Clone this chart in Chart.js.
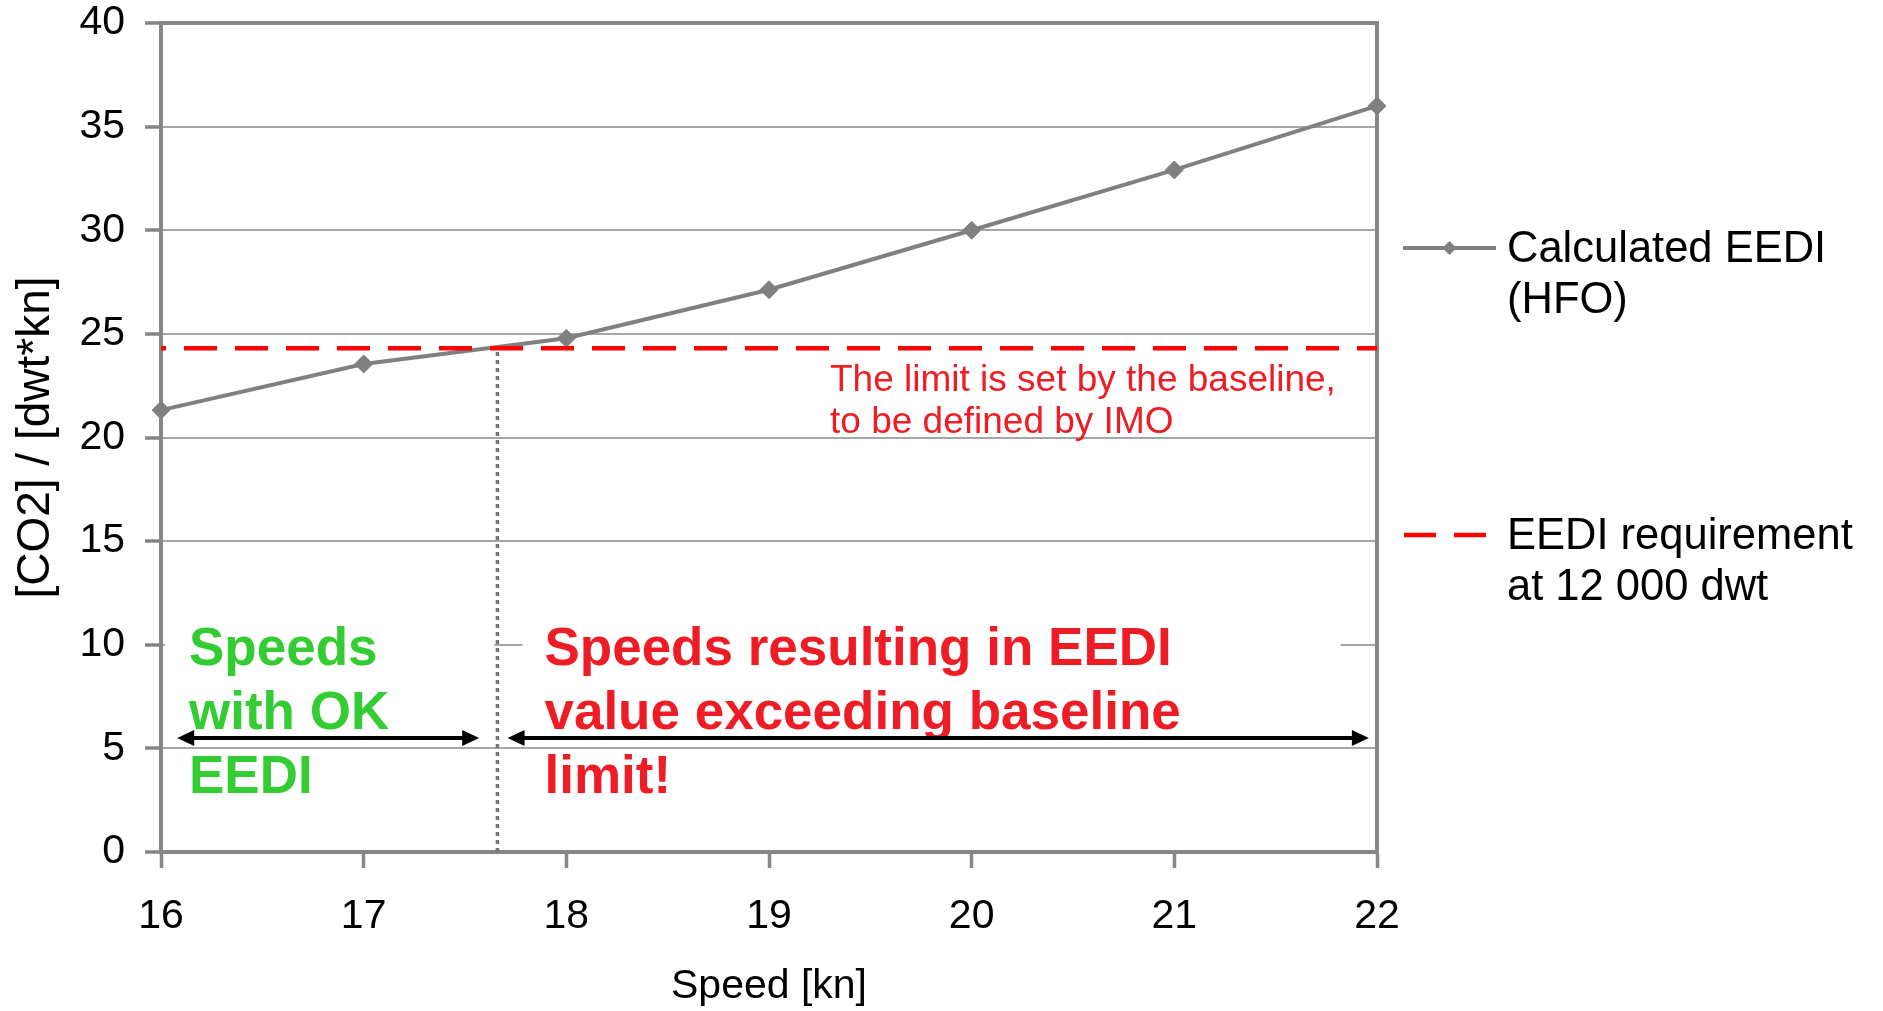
<!DOCTYPE html>
<html lang="en">
<head>
  <meta charset="UTF-8" />
  <title>EEDI vs speed</title>
  <style>
    html, body { margin: 0; padding: 0; background: #fff; }
    canvas { display: block; }
  </style>
</head>
<body>
  <canvas id="eediChart" width="1883" height="1011"></canvas>

  <script src="https://cdn.jsdelivr.net/npm/chart.js"></script>
  <script>
    // Speed (kn) against calculated EEDI
    const speeds = [16, 17, 18, 19, 20, 21, 22];
    const eediValues = [21.32, 23.55, 24.79, 27.13, 30.0, 32.91, 36.0];

    // Requirement level and the speed where the curve crosses it
    const requirementLevel = 24.31;
    const crossingSpeed = 17.66;

    // Speed ranges marked with arrows, and the height they sit at
    const okSpan = [16.08, 17.57];
    const exceedSpan = [17.71, 21.96];
    const arrowLevel = 5.5;

    const legendLines = [
      ["Calculated EEDI", "(HFO)"],
      ["EEDI requirement", "at 12 000 dwt"]
    ];
    const okText = ["Speeds", "with OK", "EEDI"];
    const exceedText = ["Speeds resulting in EEDI", "value exceeding baseline", "limit!"];
    const noteText = ["The limit is set by the baseline,", "to be defined by IMO"];

    const FONT = "'Liberation Sans', Arial, Helvetica, sans-serif";
    const AXIS_GREY = "#868686";
    const SERIES_GREY = "#808080";
    const RED = "#ff0000";
    const TEXT_RED = "#ee1c25";
    const GREEN = "#33cc33";

    function drawArrow(ctx, x1, x2, yy) {
      const head = 17, half = 8;
      ctx.beginPath();
      ctx.moveTo(x1 + head - 2, yy);
      ctx.lineTo(x2 - head + 2, yy);
      ctx.lineWidth = 4;
      ctx.strokeStyle = "#000";
      ctx.stroke();
      ctx.fillStyle = "#000";
      ctx.beginPath();
      ctx.moveTo(x1, yy);
      ctx.lineTo(x1 + head, yy - half);
      ctx.lineTo(x1 + head, yy + half);
      ctx.closePath();
      ctx.fill();
      ctx.beginPath();
      ctx.moveTo(x2, yy);
      ctx.lineTo(x2 - head, yy - half);
      ctx.lineTo(x2 - head, yy + half);
      ctx.closePath();
      ctx.fill();
    }

    // Text boxes, arrows, frame and the legend on the right
    const annotations = {
      id: "annotations",
      beforeDatasetsDraw(chart) {
        const { ctx, chartArea: a, scales: { x, y } } = chart;
        const cross = x.getPixelForValue(crossingSpeed);
        const boxTop = y.getPixelForValue(11.5);
        const boxBottom = y.getPixelForValue(7.5);
        ctx.save();
        // white text boxes hide the grid line behind them
        ctx.fillStyle = "#fff";
        ctx.fillRect(a.left + 4, boxTop, cross - 3 - (a.left + 4), boxBottom - boxTop);
        const redLeft = cross + 25;
        ctx.fillRect(redLeft, boxTop, x.getPixelForValue(21.82) - redLeft, boxBottom - boxTop);
        // right side of the plot frame
        ctx.strokeStyle = AXIS_GREY;
        ctx.lineWidth = 4;
        ctx.beginPath();
        ctx.moveTo(a.right, a.top - 2);
        ctx.lineTo(a.right, a.bottom + 2);
        ctx.stroke();
        ctx.restore();
      },
      afterDatasetsDraw(chart) {
        const { ctx, chartArea: a, scales: { x, y } } = chart;
        ctx.save();
        ctx.textBaseline = "alphabetic";
        ctx.textAlign = "left";

        ctx.font = "bold 53px " + FONT;
        ctx.fillStyle = GREEN;
        okText.forEach((t, i) => ctx.fillText(t, a.left + 28, a.bottom - 187 + i * 64));
        ctx.fillStyle = TEXT_RED;
        const redX = x.getPixelForValue(crossingSpeed) + 47;
        exceedText.forEach((t, i) => ctx.fillText(t, redX, a.bottom - 187 + i * 64));

        ctx.font = "37px " + FONT;
        ctx.fillStyle = TEXT_RED;
        noteText.forEach((t, i) => ctx.fillText(t, a.left + 669, a.top + 368 + i * 42));

        const ay = y.getPixelForValue(arrowLevel);
        drawArrow(ctx, x.getPixelForValue(okSpan[0]), x.getPixelForValue(okSpan[1]), ay);
        drawArrow(ctx, x.getPixelForValue(exceedSpan[0]), x.getPixelForValue(exceedSpan[1]), ay);
        ctx.restore();
      },
      afterDraw(chart) {
        const { ctx, chartArea: a } = chart;
        const x0 = a.right + 26, x1 = a.right + 119, tx = a.right + 130;
        ctx.save();
        ctx.font = "43.5px " + FONT;
        ctx.fillStyle = "#000";
        ctx.textAlign = "left";
        ctx.textBaseline = "alphabetic";

        // series: line with diamond
        const y1 = 248;
        ctx.strokeStyle = SERIES_GREY;
        ctx.lineWidth = 4;
        ctx.beginPath();
        ctx.moveTo(x0, y1);
        ctx.lineTo(x1, y1);
        ctx.stroke();
        ctx.fillStyle = SERIES_GREY;
        ctx.beginPath();
        const cx = (x0 + x1) / 2;
        ctx.moveTo(cx, y1 - 7);
        ctx.lineTo(cx + 7, y1);
        ctx.lineTo(cx, y1 + 7);
        ctx.lineTo(cx - 7, y1);
        ctx.closePath();
        ctx.fill();
        ctx.fillStyle = "#000";
        legendLines[0].forEach((t, i) => ctx.fillText(t, tx, y1 + 14 + i * 50.5));

        // requirement: red dashes
        const y2 = 535;
        ctx.strokeStyle = RED;
        ctx.lineWidth = 4.5;
        ctx.setLineDash([32, 18]);
        ctx.beginPath();
        ctx.moveTo(x0 + 1, y2);
        ctx.lineTo(x0 + 83, y2);
        ctx.stroke();
        ctx.setLineDash([]);
        legendLines[1].forEach((t, i) => ctx.fillText(t, tx, y2 + 14 + i * 50.5));
        ctx.restore();
      }
    };

    const ctx = document.getElementById("eediChart").getContext("2d");
    new Chart(ctx, {
      type: "line",
      data: {
        datasets: [
          {
            label: legendLines[1].join(" "),
            data: [
              { x: speeds[0], y: requirementLevel },
              { x: speeds[speeds.length - 1], y: requirementLevel }
            ],
            borderColor: RED,
            borderWidth: 4.5,
            borderDash: [33, 18],
            borderDashOffset: 28,
            borderCapStyle: "butt",
            pointRadius: 0,
            order: 0
          },
          {
            label: legendLines[0].join(" "),
            data: speeds.map((s, i) => ({ x: s, y: eediValues[i] })),
            borderColor: SERIES_GREY,
            backgroundColor: SERIES_GREY,
            borderWidth: 4,
            pointStyle: "rectRot",
            pointRadius: 9,
            pointBorderWidth: 1,
            pointBackgroundColor: SERIES_GREY,
            pointBorderColor: SERIES_GREY,
            tension: 0,
            clip: false,
            order: 1
          },
          {
            label: "crossing",
            data: [
              { x: crossingSpeed, y: 0 },
              { x: crossingSpeed, y: requirementLevel }
            ],
            borderColor: "#767676",
            borderWidth: 3.5,
            borderDash: [4, 4],
            pointRadius: 0,
            order: 2
          }
        ]
      },
      options: {
        responsive: false,
        animation: false,
        events: [],
        layout: { padding: { left: 0, top: 23, right: 506, bottom: 0 } },
        plugins: {
          legend: { display: false },
          tooltip: { enabled: false }
        },
        scales: {
          x: {
            type: "linear",
            min: 16,
            max: 22,
            ticks: {
              stepSize: 1,
              color: "#000",
              font: { family: FONT, size: 41 },
              padding: 24,
              maxRotation: 0
            },
            grid: {
              drawOnChartArea: false,
              tickLength: 16,
              tickWidth: 3.5,
              tickColor: AXIS_GREY
            },
            border: { color: AXIS_GREY, width: 4 },
            title: {
              display: true,
              text: "Speed [kn]",
              color: "#000",
              font: { family: FONT, size: 41 },
              padding: { top: 0, bottom: 0 }
            },
            afterFit(scale) {
              scale.height = 159;
            }
          },
          y: {
            min: 0,
            max: 40,
            ticks: {
              stepSize: 5,
              color: "#000",
              font: { family: FONT, size: 41 },
              padding: 20
            },
            grid: {
              color: (c) => (c.tick && c.tick.value === 40 ? AXIS_GREY : "#a6a6a6"),
              lineWidth: (c) => (c.tick && c.tick.value === 40 ? 4 : 2),
              tickLength: 16,
              tickWidth: 3.5,
              tickColor: AXIS_GREY
            },
            border: { color: AXIS_GREY, width: 4 },
            title: {
              display: true,
              text: "[CO2] / [dwt*kn]",
              color: "#000",
              font: { family: FONT, size: 46 },
              padding: { top: 9, bottom: 0 }
            },
            afterFit(scale) {
              scale.width = 161;
              scale.paddingTop = 0;
              scale.paddingBottom = 0;
            }
          }
        }
      },
      plugins: [annotations]
    });
  </script>
</body>
</html>
